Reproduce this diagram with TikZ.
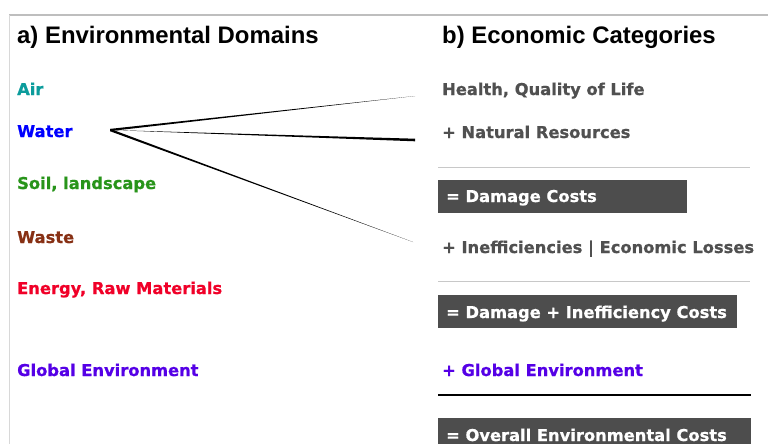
\documentclass[tikz,border=0pt]{standalone}
\usepackage{fontspec}
\usetikzlibrary{calc}
\setmainfont{Liberation Sans}
\newfontfamily\labelfont{DejaVu Sans}[BoldFeatures={FakeBold=0.8}, BoldFont={DejaVu Sans Bold}]
\definecolor{airc}{RGB}{12,156,156}
\definecolor{waterc}{RGB}{0,0,255}
\definecolor{soilc}{RGB}{40,148,26}
\definecolor{wastec}{RGB}{135,48,20}
\definecolor{energyc}{RGB}{240,0,40}
\definecolor{globalc}{RGB}{85,0,230}
\definecolor{catc}{RGB}{80,80,80}
\definecolor{boxc}{RGB}{77,77,77}
\definecolor{framec}{RGB}{190,190,190}
\definecolor{rulec}{RGB}{200,200,200}
\tikzset{
  title/.style={anchor=base west, inner sep=0pt, font=\fontsize{23.9}{28}\selectfont\bfseries},
  item/.style={anchor=base west, inner sep=0pt, font=\labelfont\fontsize{16.3}{19}\selectfont\bfseries},
  cat/.style={item, text=catc}
}
\begin{document}
\begin{tikzpicture}[x=1pt,y=-1pt]
\useasboundingbox (0,0) rectangle (768,444);
% frame
\draw[framec, line width=1.5pt] (9,15) -- (768,15);
\draw[rulec!70, line width=1pt] (9,15) -- (9,444);
% headings
\node[title] (ta) at (17,44) {a) Environmental Domains};
\node[title] (tb) at (442,44) {b) Economic Categories};
% environmental domains
\node[item, text=airc] (air) at (17,95) {Air};
\node[item, text=waterc] (water) at (17,137) {Water};
\node[item, text=soilc] (soil) at (17,189) {Soil, landscape};
\node[item, text=wastec] (waste) at (17,243) {Waste};
\node[item, text=energyc] (energy) at (17,294) {Energy, Raw Materials};
\node[item, text=globalc] (global) at (17,376) {Global Environment};
% economic categories
\node[cat] (health) at (442,95) {Health, Quality of Life};
\node[cat] (natres) at (442,138) {+ Natural Resources};
\draw[rulec, line width=1pt] (438,167) -- (750,167);
\fill[boxc] (438,180) rectangle (687,213);
\node[item, text=white] (dmg) at (446,202) {= Damage Costs};
\node[cat] (ineff) at (442,253) {+ Inefficiencies | Economic Losses};
\draw[rulec, line width=1pt] (438,281) -- (750,281);
\fill[boxc] (438,295) rectangle (737,328);
\node[item, text=white] (dmgineff) at (446,318) {= Damage + Inefficiency Costs};
\node[item, text=globalc] (glob2) at (442,376) {+ Global Environment};
\draw[black, line width=2.5pt] (438,395) -- (751,395);
\fill[boxc] (438,418) rectangle (751,450);
\node[item, text=white] (overall) at (446,441) {= Overall Environmental Costs};
% tapered links from Water
\coordinate (w) at (110,130);
\coordinate (eh) at (415,96);
\coordinate (en) at (415,140);
\coordinate (ei) at (413,242);
\fill[black] ($(w)+(0,-1.1)$) -- ($(w)+(0,1.1)$) -- (eh) -- cycle;
\fill[black] (w) -- ($(en)+(0,-1.3)$) -- ($(en)+(0,1.3)$) -- cycle;
\fill[black] ($(w)+(0,-1.2)$) -- ($(w)+(0,1.2)$) -- (ei) -- cycle;
\end{tikzpicture}
\end{document}
